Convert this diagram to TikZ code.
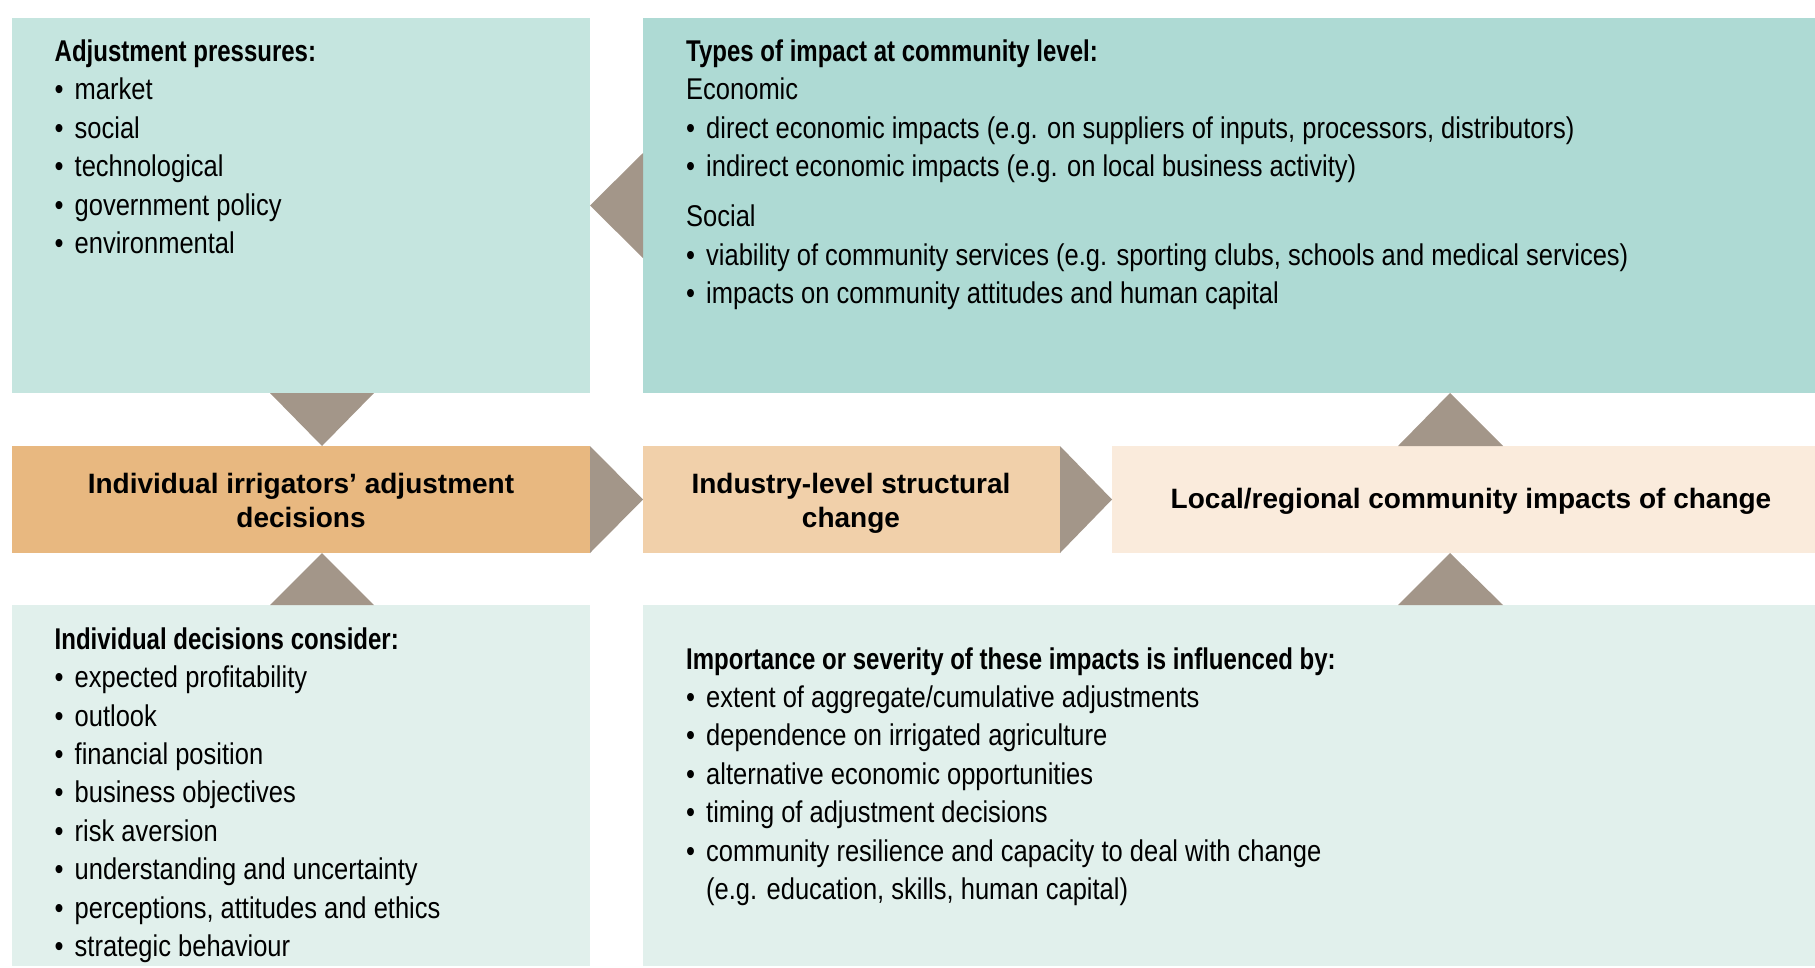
\documentclass[tikz,border=0pt]{standalone}
\usepackage{fontspec}
\usetikzlibrary{calc}
\setmainfont{Liberation Sans}
\newfontfamily\bodyfont[FakeStretch=0.85]{Liberation Sans}
\newfontfamily\headfont[FakeStretch=0.80]{Liberation Sans Bold}
\newfontfamily\midfont{Liberation Sans Bold}
\definecolor{tlcol}{HTML}{C5E5DF}
\definecolor{trcol}{HTML}{AEDAD4}
\definecolor{tricol}{HTML}{A39689}
\definecolor{bacol}{HTML}{E8B880}
\definecolor{bbcol}{HTML}{F1D0AA}
\definecolor{bccol}{HTML}{FAEBDC}
\definecolor{botcol}{HTML}{E1F0EC}
\newcommand\bl{\makebox[20pt][l]{•}}
\begin{document}
\begin{tikzpicture}[x=1pt,y=-1pt,
  box/.style={draw=none, inner sep=0pt, outer sep=0pt, anchor=north west},
  tri/.style={fill=tricol},
  txt/.style={inner sep=0pt, align=left, anchor=base west, font=\bodyfont\fontsize{30}{38.4}\selectfont},
  midtxt/.style={inner sep=0pt, align=center, anchor=base, font=\midfont\fontsize{28}{34}\selectfont}]
\useasboundingbox (0,0) rectangle (1815,967);
% boxes
\node[box, fill=tlcol, minimum width=578pt, minimum height=375pt] (tl) at (12,18) {};
\node[box, fill=trcol, minimum width=1172pt, minimum height=375pt] (tr) at (643,18) {};
\node[box, fill=bacol, minimum width=578pt, minimum height=107pt] (b1) at (12,446) {};
\node[box, fill=bbcol, minimum width=417pt, minimum height=107pt] (b2) at (643,446) {};
\node[box, fill=bccol, minimum width=703pt, minimum height=107pt] (b3) at (1112,446) {};
\node[box, fill=botcol, minimum width=578pt, minimum height=361pt] (bl) at (12,605) {};
\node[box, fill=botcol, minimum width=1172pt, minimum height=361pt] (br) at (643,605) {};
% triangles
\fill[tri] ($(tl.south west)+(258,0)$) -- ($(tl.south west)+(362,0)$) -- ($(b1.north west)+(310,0)$) -- cycle;
\fill[tri] (tl.east) -- ($(tr.west)+(0,-52.5)$) -- ($(tr.west)+(0,52.5)$) -- cycle;
\fill[tri] (b1.north east) -- (b2.west) -- (b1.south east) -- cycle;
\fill[tri] (b2.north east) -- (b3.west) -- (b2.south east) -- cycle;
\fill[tri] ($(b3.north west)+(286,0)$) -- ($(b3.north west)+(391,0)$) -- ($(tr.south west)+(807,0)$) -- cycle;
\fill[tri] ($(br.north west)+(755,0)$) -- ($(br.north west)+(860,0)$) -- ($(b3.south west)+(338,0)$) -- cycle;
\fill[tri] ($(bl.north west)+(258,0)$) -- ($(bl.north west)+(362,0)$) -- ($(b1.south west)+(310,0)$) -- cycle;
% texts (anchor base = baseline of the last line)
\node[txt] (tltext) at (54.5,253.5) {{\headfont Adjustment pressures:}\\
\bl market\\ \bl social\\ \bl technological\\ \bl government policy\\ \bl environmental};
\node[txt] (trtext) at (686,303.5) {{\headfont Types of impact at community level:}\\
Economic\\
\bl direct economic impacts (e.g. on suppliers of inputs, processors, distributors)\\
\bl indirect economic impacts (e.g. on local business activity)\\[11.6pt]
Social\\
\bl viability of community services (e.g. sporting clubs, schools and medical services)\\
\bl impacts on community attitudes and human capital};
\node[txt] (bltext) at (54.5,956.5) {{\headfont Individual decisions consider:}\\
\bl expected profitability\\ \bl outlook\\ \bl financial position\\ \bl business objectives\\
\bl risk aversion\\ \bl understanding and uncertainty\\ \bl perceptions, attitudes and ethics\\
\bl strategic behaviour};
\node[txt] (brtext) at (686,899.5) {{\headfont Importance or severity of these impacts is influenced by:}\\
\bl extent of aggregate/cumulative adjustments\\ \bl dependence on irrigated agriculture\\
\bl alternative economic opportunities\\ \bl timing of adjustment decisions\\
\bl community resilience and capacity to deal with change\\
\hspace*{20pt}(e.g. education, skills, human capital)};
\node[midtxt] (b1text) at (301,527) {Individual irrigators’ adjustment\\decisions};
\node[midtxt] (b2text) at (851,527) {Industry-level structural\\change};
\node[midtxt] (b3text) at (1471,508) {Local/regional community impacts of change};
\end{tikzpicture}
\end{document}
